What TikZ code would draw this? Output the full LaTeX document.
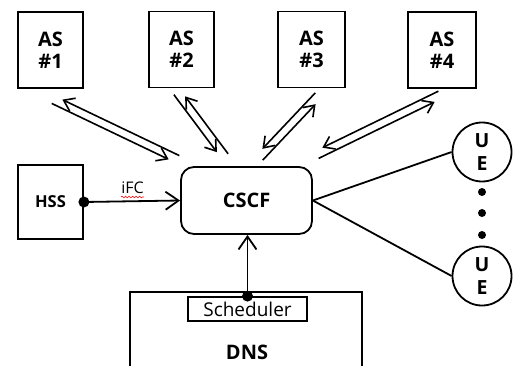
\documentclass[tikz,border=0pt]{standalone}
\usepackage{fontspec}
\setmainfont{Open Sans}
\usetikzlibrary{arrows.meta,calc,positioning,decorations.pathmorphing}

\tikzset{
  box/.style={draw, line width=1.8pt, inner sep=0pt, align=center,
    font=\bfseries\fontsize{20}{22}\selectfont},
  ue/.style={draw, circle, line width=1.8pt, inner sep=0pt, minimum size=59pt,
    align=center, font=\bfseries\fontsize{19.5}{23}\selectfont},
  dot/.style={fill, circle, inner sep=0pt, minimum size=#1},
  dot/.default=11pt,
  arr/.style={line width=1.8pt, -{Straight Barb[length=13pt,width=18pt]}},
  pairarr/.style={line width=1.6pt, -{Straight Barb[length=10pt,width=14pt]}, shorten >=8pt}
}

\begin{document}
\begin{tikzpicture}[x=1pt,y=-1pt]
\useasboundingbox (0,0) rectangle (513,366);
% application servers
\node[box, minimum width=65pt, minimum height=76pt] (as1) at (50.5,50) {AS\\\#1};
\node[box, minimum width=65pt, minimum height=76pt] (as2) at (181.5,49.5) {AS\\\#2};
\node[box, minimum width=67pt, minimum height=76pt] (as3) at (311.5,49.5) {AS\\\#3};
\node[box, minimum width=68pt, minimum height=76pt] (as4) at (442,50) {AS\\\#4};
% core
\node[box, rounded corners=13pt, minimum width=131pt, minimum height=67pt] (cscf) at (246.5,200.5) {CSCF};
\node[box, minimum width=65pt, minimum height=74pt, font=\bfseries\fontsize{16.5}{18}\selectfont] (hss) at (50.5,202) {HSS};
% dns
\node[box, minimum width=232pt, minimum height=80pt] (dns) at (246,332) {};
\node[font=\bfseries\fontsize{20}{22}\selectfont] (dnsname) at (247,352) {DNS};
\node[draw, line width=1.8pt, inner sep=0pt, minimum width=119pt, minimum height=24pt,
  font=\fontsize{19}{22}\selectfont] (sched) at (247.5,309) {Scheduler};
% user equipment
\node[ue] (ue1) at (482,152) {U\\E};
\node[ue] (ue2) at (482,276) {U\\E};
\node[dot=8pt] (d1) at (482,192) {};
\node[dot=8pt] (d2) at (482,213) {};
\node[dot=8pt] (d3) at (482,235) {};

% hss -> cscf
\node[dot] (hdot) at (hss.east) {};
\draw[arr] (hdot.center) -- (cscf.west);
\node[font=\fontsize{16}{18}\selectfont] (ifc) at (132.5,187.5) {iFC};
\draw[red, line width=0.6pt, decorate, decoration={snake, amplitude=0.8pt, segment length=3.5pt}]
  (121,197) -- (144,197);
% dns -> cscf
\node[dot] (sdot) at (sched.north) {};
\draw[arr] (sdot.center) -- (sdot.center |- cscf.south);
% cscf -- ue
\draw[line width=1.8pt] (cscf.east) -- (ue1.west);
\draw[line width=1.8pt] (cscf.east) -- (ue2.west);

% as <-> cscf
\coordinate (p1) at (53.4,99.8);  \coordinate (q1) at (177.6,159.2);
\coordinate (p2) at (177.1,92.3); \coordinate (q2) at (224.9,156.2);
\coordinate (p3) at (318.2,95.6); \coordinate (q3) at (259.8,157.4);
\coordinate (p4) at (440.1,94.8); \coordinate (q4) at (316.9,154.8);
\draw[pairarr] ($(q1)!4pt!-90:(p1)$) -- ($(p1)!4pt!90:(q1)$);
\draw[pairarr] ($(p1)!4pt!-90:(q1)$) -- ($(q1)!4pt!90:(p1)$);
\draw[pairarr] ($(q2)!4pt!-90:(p2)$) -- ($(p2)!4pt!90:(q2)$);
\draw[pairarr] ($(p2)!4pt!-90:(q2)$) -- ($(q2)!4pt!90:(p2)$);
\draw[pairarr] ($(q3)!4pt!-90:(p3)$) -- ($(p3)!4pt!90:(q3)$);
\draw[pairarr] ($(p3)!4pt!-90:(q3)$) -- ($(q3)!4pt!90:(p3)$);
\draw[pairarr] ($(q4)!4pt!-90:(p4)$) -- ($(p4)!4pt!90:(q4)$);
\draw[pairarr] ($(p4)!4pt!-90:(q4)$) -- ($(q4)!4pt!90:(p4)$);
\end{tikzpicture}
\end{document}
